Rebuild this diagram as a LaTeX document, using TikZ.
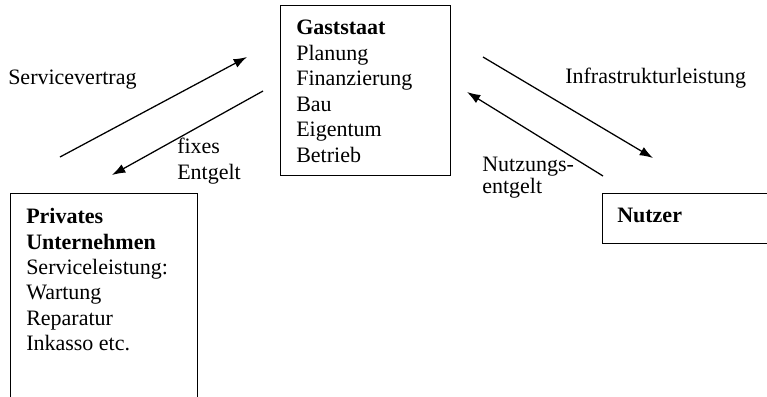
\documentclass[tikz,border=0pt]{standalone}
\usepackage{fontspec}
\setmainfont{Liberation Serif}
\usetikzlibrary{arrows.meta}
\tikzset{
  boxframe/.style={draw, line width=1pt, rectangle, inner sep=0pt, anchor=north west},
  lbl/.style={inner sep=0pt, anchor=north west, align=left, font=\fontsize{16.5pt}{19.1pt}\selectfont},
  flow/.style={line width=0.95pt, -{Latex[length=10pt,width=7pt]}}
}
\begin{document}
\begin{tikzpicture}[x=0.75pt,y=-0.75pt]
\useasboundingbox (0,0) rectangle (767,396);
\clip (0,0) rectangle (767,396);
% boxes
\node[boxframe, minimum width=127.5pt, minimum height=127.5pt] (gast) at (280,5) {};
\node[boxframe, minimum width=140.25pt, minimum height=165pt] (priv) at (10,193) {};
\node[boxframe, minimum width=133.5pt, minimum height=37.5pt] (nutz) at (602,193) {};
% box texts
\node[lbl] (gasttxt) at (296,20) {\textbf{Gaststaat}\\Planung\\Finanzierung\\Bau\\Eigentum\\Betrieb};
\node[lbl] (privtxt) at (26,208) {\textbf{Privates}\\\textbf{Unternehmen}\\Serviceleistung:\\Wartung\\Reparatur\\Inkasso etc.};
\node[lbl] (nutztxt) at (617,208) {\textbf{Nutzer}};
% arrow labels
\node[lbl] (lservice) at (8,70) {Servicevertrag};
\node[lbl] (lfix) at (177,138) {fixes\\Entgelt};
\node[lbl] (linfra) at (565,68) {Infrastrukturleistung};
\node[lbl, font=\fontsize{16.5pt}{16.5pt}\selectfont] (lnutz) at (482,157) {Nutzungs-\\entgelt};
% arrow end points
\coordinate (a1s) at (60,157);
\coordinate (a1e) at (247,57);
\coordinate (a2s) at (263,91);
\coordinate (a2e) at (112,175);
\coordinate (a3s) at (483,57);
\coordinate (a3e) at (653,158);
\coordinate (a4s) at (603,176);
\coordinate (a4e) at (467,92);
\draw[flow] (a1s) -- (a1e);
\draw[flow] (a2s) -- (a2e);
\draw[flow] (a3s) -- (a3e);
\draw[flow] (a4s) -- (a4e);
\end{tikzpicture}
\end{document}
